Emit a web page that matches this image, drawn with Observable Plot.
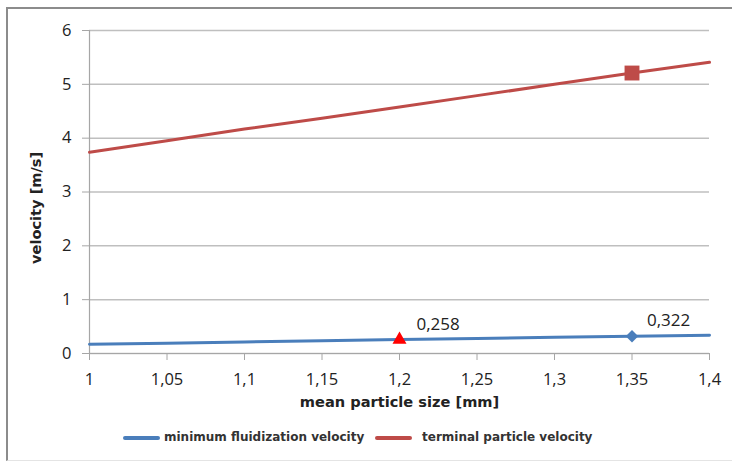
<!DOCTYPE html>
<html>
<head>
<meta charset="utf-8">
<script src="https://cdn.jsdelivr.net/npm/d3@7"></script>
<script src="https://cdn.jsdelivr.net/npm/@observablehq/plot@0.6"></script>
<style>
  html, body { margin: 0; padding: 0; background: #fff; }
  #wrap { position: relative; width: 732px; height: 464px; overflow: hidden; background: #fff; }
  #frame { position: absolute; left: 6px; top: 7px; width: 760px; height: 454px;
           border-left: 2px solid #8c8c8c; border-top: 2px solid #8c8c8c; border-bottom: 1px solid #e4e4e4; box-sizing: border-box; }
  #chart { position: absolute; left: 0; top: 0; }
  #legend { position: absolute; left: 0; top: 428px; width: 732px; height: 20px;
            font-family: "DejaVu Sans", sans-serif; font-weight: bold; font-size: 12px; color: #333; }
  .sw { position: absolute; top: 8px; width: 37px; height: 4px; border-radius: 2px; }
  .lt { position: absolute; top: 2px; white-space: nowrap; }
  #chart svg g[aria-label="x-axis tick"] path, #chart svg g[aria-label="y-axis tick"] path { stroke: #a6a6a6; }
</style>
</head>
<body>
<div id="wrap">
  <div id="frame"></div>
  <div id="chart"></div>
  <div id="legend"></div>
</div>
<script>
// ---- data ----
const xValues = [1, 1.05, 1.1, 1.15, 1.2, 1.25, 1.3, 1.35, 1.4];
const minFluidization = [0.17, 0.19, 0.215, 0.237, 0.258, 0.28, 0.30, 0.322, 0.34];
const terminalVelocity = [3.74, 3.95, 4.17, 4.37, 4.58, 4.79, 5.0, 5.21, 5.41];
const seriesNames = ["minimum fluidization velocity", "terminal particle velocity"];
const seriesColors = ["#4a7ebb", "#be4b48"];
const xTicks = [1, 1.05, 1.1, 1.15, 1.2, 1.25, 1.3, 1.35, 1.4];
const yTicks = [0, 1, 2, 3, 4, 5, 6];
const triangleMarker = [{x: 1.2, y: 0.258, label: "0,258"}];
const diamondMarker = [{x: 1.35, y: 0.322, label: "0,322"}];
const squareMarker = [{x: 1.35, y: 5.21}];
const xTitle = "mean particle size [mm]";
const yTitle = "velocity [m/s]";

const blue = xValues.map((x, i) => ({x, y: minFluidization[i]}));
const red = xValues.map((x, i) => ({x, y: terminalVelocity[i]}));
const fmt = d => String(d).replace(".", ",");

const chart = Plot.plot({
  width: 732,
  height: 420,
  marginLeft: 89,
  marginRight: 23,
  marginTop: 30,
  marginBottom: 67,
  style: { fontFamily: "'Open Sans', sans-serif", background: "transparent", color: "#222" },
  x: { domain: [1, 1.4] },
  y: { domain: [0, 6] },
  marks: [
    Plot.gridY(yTicks, { stroke: "#bfbfbf", strokeOpacity: 1, strokeWidth: 1.5, x1: 1, x2: 1.4 }),
    Plot.ruleX([1], { stroke: "#a6a6a6", strokeWidth: 1.2 }),
    Plot.ruleY([0], { stroke: "#a6a6a6", strokeWidth: 1.2 }),
    Plot.axisY(yTicks, { tickSize: 7, tickPadding: 11, fontSize: 16.5, label: null, tickFormat: fmt }),
    Plot.axisX(xTicks, { tickSize: 7, tickPadding: 13, fontSize: 16.5, label: null, tickFormat: fmt }),
    Plot.line(red, { x: "x", y: "y", stroke: seriesColors[1], strokeWidth: 3 }),
    Plot.line(blue, { x: "x", y: "y", stroke: seriesColors[0], strokeWidth: 3 }),
    Plot.dot(squareMarker, { x: "x", y: "y", symbol: "square", r: 8.4, fill: seriesColors[1], stroke: "none" }),
    Plot.dot(diamondMarker, { x: "x", y: "y", symbol: "diamond2", r: 5.6, fill: seriesColors[0], stroke: "none" }),
    Plot.dot(triangleMarker, { x: "x", y: "y", symbol: "triangle", r: 5.2, fill: "#ff0000", stroke: "none" }),
    Plot.text(triangleMarker, { x: "x", y: "y", text: "label", dx: 17, dy: -15, textAnchor: "start", fontSize: 17, fill: "#222" }),
    Plot.text(diamondMarker, { x: "x", y: "y", text: "label", dx: 15, dy: -16, textAnchor: "start", fontSize: 17, fill: "#222" }),
    Plot.text([xTitle], { frameAnchor: "bottom", dy: 53, fontFamily: "DejaVu Sans", fontWeight: "bold", fontSize: 14.6, fill: "#222" }),
    Plot.text([yTitle], { frameAnchor: "left", dx: -53, dy: 72, rotate: -90, fontFamily: "DejaVu Sans", fontWeight: "bold", fontSize: 14.6, fill: "#222" })
  ]
});
document.getElementById("chart").appendChild(chart);

const legend = document.getElementById("legend");
const legendPos = [{sw: 123, txt: 164}, {sw: 375, txt: 422}];
seriesNames.forEach((name, i) => {
  const sw = document.createElement("div");
  sw.className = "sw";
  sw.style.left = legendPos[i].sw + "px";
  sw.style.background = seriesColors[i];
  legend.appendChild(sw);
  const t = document.createElement("span");
  t.className = "lt";
  t.style.left = legendPos[i].txt + "px";
  t.textContent = name;
  legend.appendChild(t);
});
</script>
</body>
</html>
